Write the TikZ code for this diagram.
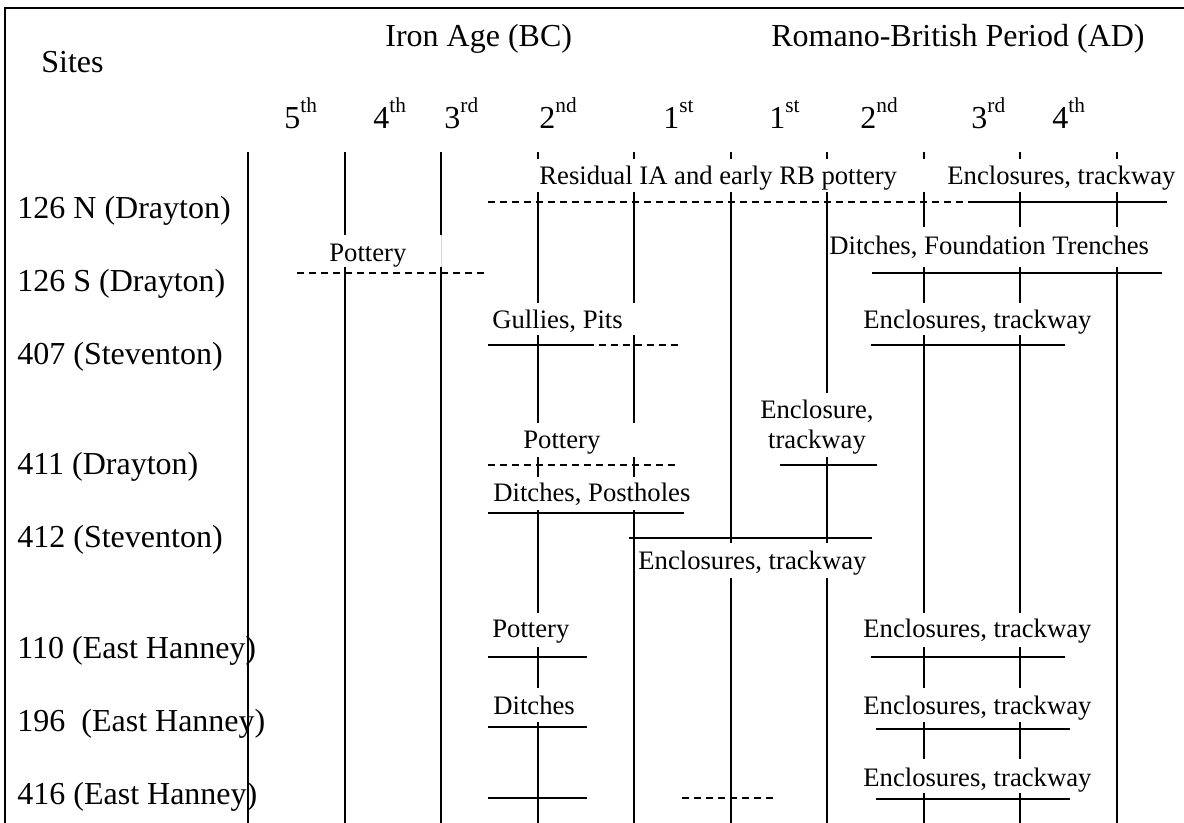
\documentclass[tikz,border=0pt]{standalone}
\usepackage{fontspec}
\setmainfont{Liberation Serif}
% ordinal with a raised suffix
\newcommand\ordn[2]{#1\raisebox{0.5em}{\fontsize{10.67}{12}\selectfont #2}}
% white text frame that hides the period lines behind a label
\newcommand\tagbox[8]{%
  \fill[white] (#2,#3) rectangle (#4,#5);
  \node[lbl,anchor=base west] (#1) at (#6,#7) {#8};}
\begin{document}
\begin{tikzpicture}[x=0.5pt,y=-0.5pt,
  big/.style={font=\fontsize{16}{19}\selectfont, inner sep=0pt},
  lbl/.style={font=\fontsize{13.33}{15}\selectfont, inner sep=0pt},
  frame/.style={line width=1.4pt},
  period/.style={line width=0.9pt},
  bar/.style={line width=0.9pt},
  dashbar/.style={line width=0.9pt, dash pattern=on 3.5pt off 2.5pt}]
\useasboundingbox (0,0) rectangle (1184,823);

% outer frame
\draw[frame] (1184,8) -- (5,8) -- (5,823);

% headings
\node[big,anchor=base west] (sites) at (41,73) {Sites};
\node[big,anchor=base west] (ia) at (385,47) {Iron Age (BC)};
\node[big,anchor=base east] (rb) at (1145,47) {Romano-British Period (AD)};
\node[big,anchor=base west] (c5) at (284,129) {\ordn{5}{th}};
\node[big,anchor=base west] (c4) at (373,129) {\ordn{4}{th}};
\node[big,anchor=base west] (c3) at (444,129) {\ordn{3}{rd}};
\node[big,anchor=base west] (c2) at (539,129) {\ordn{2}{nd}};
\node[big,anchor=base west] (c1) at (663,129) {\ordn{1}{st}};
\node[big,anchor=base west] (a1) at (769,129) {\ordn{1}{st}};
\node[big,anchor=base west] (a2) at (860,129) {\ordn{2}{nd}};
\node[big,anchor=base west] (a3) at (971,129) {\ordn{3}{rd}};
\node[big,anchor=base west] (a4) at (1052,129) {\ordn{4}{th}};

% century boundaries
\foreach \x in {248,345,441,538,634,731,827,924,1020,1117}
  \draw[period] (\x,152) -- (\x,823);

% site names, one per line of a single-spaced column
\node[big,anchor=base west] (s1) at (17,219) {126 N (Drayton)};
\node[big,anchor=base west] (s2) at (17,292) {126 S (Drayton)};
\node[big,anchor=base west] (s3) at (17,365) {407 (Steventon)};
\node[big,anchor=base west] (s4) at (17,475) {411 (Drayton)};
\node[big,anchor=base west] (s5) at (17,548) {412 (Steventon)};
\node[big,anchor=base west] (s6) at (17,658) {110 (East Hanney)};
\node[big,anchor=base west] (s7) at (17,731) {196\hspace{0.25em} (East Hanney)};
\node[big,anchor=base west] (s8) at (17,804) {416 (East Hanney)};

% evidence labels
\tagbox{res}{485}{159}{930}{192}{539}{185}{Residual IA and early RB pottery}
\tagbox{encA}{935}{159}{1178}{192}{947}{185}{Enclosures, trackway}
\tagbox{potB}{300}{235}{443}{267}{329}{262}{Pottery}
\draw[gray!35,line width=0.5pt] (441,235) -- (441,267);
\tagbox{ditB}{829}{227}{1165}{267}{829}{255}{Ditches, Foundation Trenches}
\tagbox{gulC}{485}{303}{680}{335}{492}{329}{Gullies, Pits}
\tagbox{encC}{858}{303}{1095}{335}{863}{329}{Enclosures, trackway}
\tagbox{potD}{485}{423}{680}{457}{523}{449}{Pottery}
\fill[white] (745,393) rectangle (880,457);
\node[lbl,anchor=base] (encD1) at (817,419) {Enclosure,};
\node[lbl,anchor=base] (encD2) at (817,449) {trackway};
\tagbox{ditE}{485}{477}{692}{510}{493}{502}{Ditches, Postholes}
\tagbox{encE}{636}{543}{872}{578}{638}{570}{Enclosures, trackway}
\tagbox{potF}{485}{613}{600}{647}{492}{638}{Pottery}
\tagbox{encF}{858}{613}{1095}{647}{863}{638}{Enclosures, trackway}
\tagbox{ditG}{485}{688}{600}{722}{493}{714}{Ditches}
\tagbox{encG}{858}{688}{1095}{722}{863}{714}{Enclosures, trackway}
\tagbox{encH}{858}{759}{1095}{793}{863}{786}{Enclosures, trackway}

% occupation bars (dashed = uncertain)
\draw[dashbar] (488,202) -- (972,202);
\draw[bar] (972,202) -- (1167,202);
\draw[dashbar] (297,273) -- (487,273);
\draw[bar] (872,273) -- (1162,273);
\draw[bar] (488,345) -- (587,345);
\draw[dashbar] (587,345) -- (678,345);
\draw[bar] (871,345) -- (1065,345);
\draw[dashbar] (488,465) -- (678,465);
\draw[bar] (780,465) -- (877,465);
\draw[bar] (488,513) -- (684,513);
\draw[bar] (629,538) -- (872,538);
\draw[bar] (488,657) -- (587,657);
\draw[bar] (871,657) -- (1065,657);
\draw[bar] (488,727) -- (587,727);
\draw[bar] (876,729) -- (1070,729);
\draw[bar] (488,798) -- (587,798);
\draw[dashbar] (682,798) -- (774,798);
\draw[bar] (876,799) -- (1070,799);
\end{tikzpicture}
\end{document}
